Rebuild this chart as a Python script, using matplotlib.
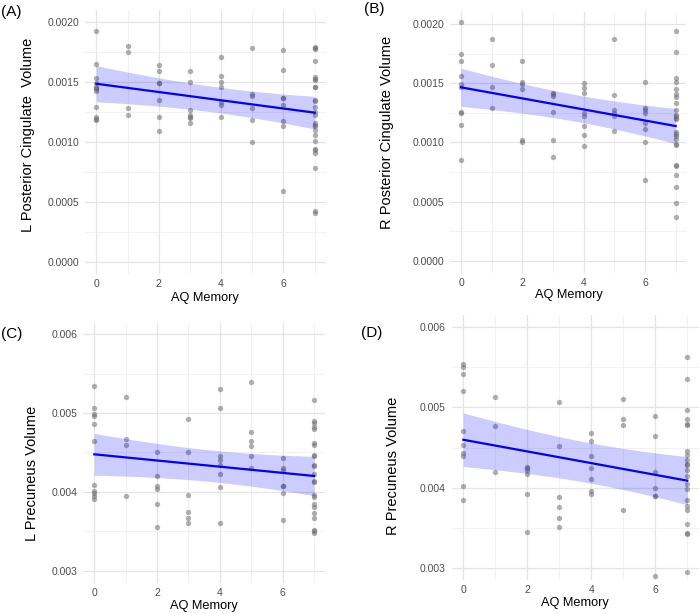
import numpy as np
import matplotlib
matplotlib.use("Agg")
import matplotlib.pyplot as plt
from matplotlib.ticker import FixedLocator

plt.rcParams['font.family'] = ['Liberation Sans', 'DejaVu Sans']

# ---------------- data ----------------
# Panel A: L Posterior Cingulate Volume by AQ Memory score
A_vals = {
    0: [0.00192, 0.00165, 0.00153, 0.00149, 0.00146, 0.00145, 0.00144, 0.00142, 0.00129, 0.00121, 0.00119, 0.00118],
    1: [0.00180, 0.00175, 0.00128, 0.00122],
    2: [0.00164, 0.00159, 0.00149, 0.00149, 0.00135, 0.00121, 0.00109],
    3: [0.00159, 0.00150, 0.00126, 0.00122, 0.00121, 0.00120, 0.00116],
    4: [0.00171, 0.00155, 0.00150, 0.00146, 0.00133, 0.00131, 0.00121],
    5: [0.00178, 0.00140, 0.00138, 0.00128, 0.00118, 0.00100],
    6: [0.00176, 0.00160, 0.00136, 0.00136, 0.00131, 0.00117, 0.00113, 0.00059],
    7: [0.00179, 0.00178, 0.00177, 0.00167, 0.00154, 0.00152, 0.00151, 0.00146, 0.00146, 0.00135,
        0.00134, 0.00129, 0.00125, 0.00122, 0.00116, 0.00114, 0.00113, 0.00110, 0.00106, 0.00101,
        0.00094, 0.00093, 0.00091, 0.00078, 0.00042, 0.00041],
}
# Panel B: R Posterior Cingulate Volume
B_vals = {
    0: [0.00202, 0.00175, 0.00169, 0.00156, 0.00149, 0.00147, 0.00126, 0.00125, 0.00115, 0.00085],
    1: [0.00187, 0.00165, 0.00147, 0.00129],
    2: [0.00169, 0.00151, 0.00149, 0.00145, 0.00102, 0.00100],
    3: [0.00142, 0.00141, 0.00139, 0.00126, 0.00102, 0.00088],
    4: [0.00150, 0.00146, 0.00142, 0.00125, 0.00122, 0.00114, 0.00106, 0.00097],
    5: [0.00187, 0.00140, 0.00127, 0.00125, 0.00122, 0.00110],
    6: [0.00151, 0.00129, 0.00127, 0.00125, 0.00116, 0.00111, 0.00100, 0.00068],
    7: [0.00194, 0.00176, 0.00154, 0.00151, 0.00145, 0.00141, 0.00138, 0.00133, 0.00127, 0.00123,
        0.00122, 0.00121, 0.00120, 0.00109, 0.00107, 0.00105, 0.00103, 0.00099, 0.00098, 0.00081,
        0.00080, 0.00072, 0.00062, 0.00049, 0.00037],
}
# Panel C: L Precuneus Volume
C_vals = {
    0: [0.00534, 0.00507, 0.00499, 0.00496, 0.00486, 0.00465, 0.00409, 0.00401, 0.00398, 0.00395, 0.00391],
    1: [0.00520, 0.00467, 0.00460, 0.00395],
    2: [0.00450, 0.00420, 0.00408, 0.00404, 0.00384, 0.00355],
    3: [0.00492, 0.00450, 0.00396, 0.00374, 0.00367, 0.00361],
    4: [0.00531, 0.00506, 0.00446, 0.00440, 0.00434, 0.00423, 0.00406, 0.00361],
    5: [0.00539, 0.00476, 0.00465, 0.00458, 0.00446, 0.00430],
    6: [0.00443, 0.00430, 0.00428, 0.00408, 0.00407, 0.00399, 0.00364],
    7: [0.00516, 0.00490, 0.00488, 0.00482, 0.00480, 0.00462, 0.00460, 0.00447, 0.00446, 0.00434,
        0.00433, 0.00423, 0.00414, 0.00412, 0.00396, 0.00393, 0.00385, 0.00381, 0.00373, 0.00367,
        0.00352, 0.00350, 0.00348],
}
# Panel D: R Precuneus Volume
D_vals = {
    0: [0.00554, 0.00550, 0.00542, 0.00520, 0.00471, 0.00453, 0.00443, 0.00439, 0.00402, 0.00384],
    1: [0.00513, 0.00477, 0.00420],
    2: [0.00426, 0.00424, 0.00422, 0.00417, 0.00392, 0.00345],
    3: [0.00507, 0.00452, 0.00388, 0.00376, 0.00362, 0.00351],
    4: [0.00468, 0.00458, 0.00440, 0.00424, 0.00411, 0.00396, 0.00392],
    5: [0.00510, 0.00486, 0.00478, 0.00372],
    6: [0.00489, 0.00464, 0.00420, 0.00399, 0.00390, 0.00389, 0.00290],
    7: [0.00563, 0.00536, 0.00497, 0.00485, 0.00479, 0.00478, 0.00446, 0.00441, 0.00434, 0.00430,
        0.00428, 0.00422, 0.00414, 0.00404, 0.00398, 0.00384, 0.00377, 0.00372, 0.00355, 0.00343,
        0.00342, 0.00294],
}

# Fitted trend lines (value at AQ Memory = 0 and 7) and confidence band half-widths
# at AQ Memory = 0, 3.5 and 7
fit_x_ends = [0, 7]
A_fit = [0.001483, 0.001242]
B_fit = [0.001465, 0.001138]
C_fit = [0.004477, 0.004202]
D_fit = [0.004597, 0.004086]
band_x = [0, 3.5, 7]
A_band = [0.000150, 0.000107, 0.000136]
B_band = [0.000161, 0.000113, 0.000148]
C_band = [0.000265, 0.000201, 0.000249]
D_band = [0.000335, 0.000253, 0.000300]

panel_letters = ["(A)", "(B)", "(C)", "(D)"]
y_titles = ["L Posterior Cingulate  Volume", "R Posterior Cingulate Volume",
            "L Precuneus Volume", "R Precuneus Volume"]
x_title = "AQ Memory"
x_ticks = [0, 2, 4, 6]
y_ticks_top = [0.0000, 0.0005, 0.0010, 0.0015, 0.0020]
y_tick_labels_top = ["0.0000", "0.0005", "0.0010", "0.0015", "0.0020"]
y_ticks_bot = [0.003, 0.004, 0.005, 0.006]
y_tick_labels_bot = ["0.003", "0.004", "0.005", "0.006"]

# ---------------- layout (pixel geometry) ----------------
W, H = 700, 614
fig = plt.figure(figsize=(W / 100, H / 100), dpi=100)


def px_axes(l, r, t, b):
    return fig.add_axes([l / W, 1 - b / H, (r - l) / W, (b - t) / H])


boxes = [(85.4, 325.6, 9.7, 273.7), (450.3, 686.4, 12.2, 272.5),
         (83.3, 325.1, 322.5, 582.5), (452.1, 698.5, 315.3, 579.7)]
ylims = [(-0.0001, 0.0021), (-0.0001, 0.0021), (0.00285, 0.00615), (0.00285, 0.00615)]
ylab_pos = [(28, 135), (387, 132), (32, 473), (393, 466)]
xlab_pos = [(205, 298), (569, 295), (204, 606), (575, 603)]
letter_pos = [(11, 12), (374, 8.5), (11.5, 334), (371.5, 332.5)]

datasets = [A_vals, B_vals, C_vals, D_vals]
fits = [A_fit, B_fit, C_fit, D_fit]
bands = [A_band, B_band, C_band, D_band]


def band_halfwidth(xg, bx, bh):
    # hyperbolic confidence-band shape h(x)^2 = c + d (x - m)^2 through the three readings
    h0, hm, h7 = (np.array(bh) ** 2)
    span = bx[2] - bx[0]
    d = (h0 + h7 - 2 * hm) / (span ** 2 / 2)
    m = ((h0 - h7) / d + span ** 2) / (2 * span) + bx[0]
    c = h0 - d * (bx[0] - m) ** 2
    return np.sqrt(c + d * (xg - m) ** 2)


for i, (vals, box) in enumerate(zip(datasets, boxes)):
    ax = px_axes(*box)
    x = np.concatenate([[k] * len(v) for k, v in vals.items()]).astype(float)
    y = np.concatenate([v for v in vals.values()])

    xg = np.linspace(fit_x_ends[0], fit_x_ends[1], 100)
    yg = np.interp(xg, fit_x_ends, fits[i])
    hw = band_halfwidth(xg, band_x, bands[i])

    ax.scatter(x, y, s=15, color='#6E6E6E', alpha=0.55, linewidths=0, zorder=3)
    ax.fill_between(xg, yg - hw, yg + hw, color='#0000FF', alpha=0.2,
                    linewidth=0, zorder=4)
    ax.plot(xg, yg, color='#0000FF', lw=1.6, zorder=5)

    ax.set_xlim(-0.35, 7.35)
    ax.set_ylim(*ylims[i])
    ax.xaxis.set_major_locator(FixedLocator(x_ticks))
    ax.xaxis.set_minor_locator(FixedLocator([1, 3, 5, 7]))
    if i < 2:
        ax.set_yticks(y_ticks_top)
        ax.set_yticklabels(y_tick_labels_top)
        ax.yaxis.set_minor_locator(FixedLocator([0.00025, 0.00075, 0.00125, 0.00175]))
    else:
        ax.set_yticks(y_ticks_bot)
        ax.set_yticklabels(y_tick_labels_bot)
        ax.yaxis.set_minor_locator(FixedLocator([0.0035, 0.0045, 0.0055]))
    ax.set_xticklabels([str(t) for t in x_ticks])

    ax.grid(True, which='major', color='#E5E5E5', lw=0.9, zorder=0)
    ax.grid(True, which='minor', color='#F0F0F0', lw=0.6, zorder=0)
    ax.set_axisbelow(True)
    for sp in ax.spines.values():
        sp.set_visible(False)
    ax.tick_params(which='both', length=0)
    ax.tick_params(axis='y', pad=4.5, labelsize=7.5, labelcolor='#4D4D4D')
    ax.tick_params(axis='x', pad=4.0, labelsize=7.5, labelcolor='#4D4D4D')

    fig.text(ylab_pos[i][0] / W, 1 - ylab_pos[i][1] / H, y_titles[i], rotation=90,
             ha='center', va='center', fontsize=10.5, color='black')
    fig.text(xlab_pos[i][0] / W, 1 - xlab_pos[i][1] / H, x_title,
             ha='center', va='center', fontsize=9.2, color='black')
    fig.text(letter_pos[i][0] / W, 1 - letter_pos[i][1] / H, panel_letters[i],
             ha='center', va='center', fontsize=11, color='black')

fig.savefig("out.png", dpi=100, facecolor='white')
